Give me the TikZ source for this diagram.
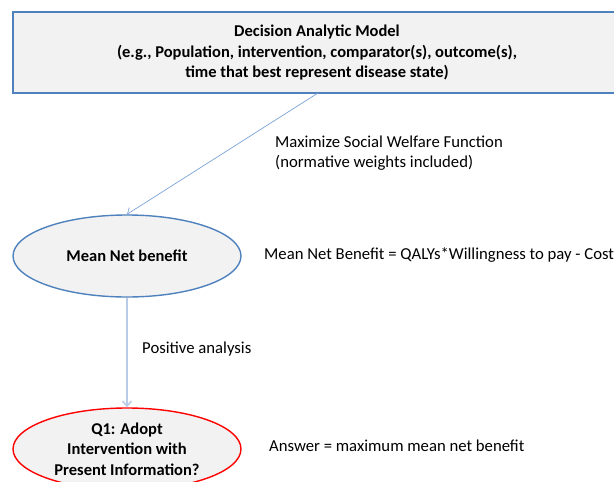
\documentclass[tikz,border=0pt]{standalone}
\usepackage{fontspec}
\setmainfont{Carlito}
\usetikzlibrary{shapes.geometric,arrows.meta}
\definecolor{boxblue}{HTML}{4F81BD}
\definecolor{linkblue}{HTML}{7BA3D6}
\definecolor{paleblue}{HTML}{B8CCE8}
\definecolor{panelgray}{HTML}{F2F2F2}
\tikzset{
  model/.style={draw=boxblue, line width=1.4pt, fill=panelgray, rectangle,
    minimum width=608pt, minimum height=81pt, align=center,
    font=\bfseries\fontsize{16.5}{20.5}\selectfont},
  oval/.style={ellipse, fill=panelgray, line width=1.4pt, minimum width=228pt,
    minimum height=82pt, align=center, inner sep=0pt,
    font=\bfseries\fontsize{16.5}{20.5}\selectfont},
  note/.style={anchor=west, align=left, inner sep=0pt,
    font=\fontsize{16.7}{20}\selectfont},
  link/.style={draw=linkblue, line width=0.7pt, -{Straight Barb[length=5pt,width=9pt]}},
}
\begin{document}
\begin{tikzpicture}[x=1pt,y=-1pt]
  \useasboundingbox (0,0) rectangle (614,482);
  \node[model] (dam) at (317,52.5) {Decision Analytic Model\\
    (e.g., Population, intervention, comparator(s), outcome(s),\\
    time that best represent disease state)};
  \node[oval, draw=boxblue] (mnb) at (127,256) {Mean Net benefit};
  \node[oval, draw=red] (q1) at (127,449) {Q1: Adopt\\Intervention with\\Present Information?};
  \coordinate (damfoot) at (318,93);
  \draw[link] (damfoot) -- (mnb.north);
  \draw[draw=paleblue, line width=1.6pt, -{Straight Barb[length=5pt,width=9pt]}] (mnb.south) -- (q1.north);
  \node[note] (swf) at (275,153) {Maximize Social Welfare Function\\(normative weights included)};
  \node[note] (mnbdef) at (264,255) {Mean Net Benefit = QALYs*Willingness to pay - Costs};
  \node[note] (pos) at (142,349) {Positive analysis};
  \node[note] (ans) at (269,446) {Answer = maximum mean net benefit};
\end{tikzpicture}
\end{document}
